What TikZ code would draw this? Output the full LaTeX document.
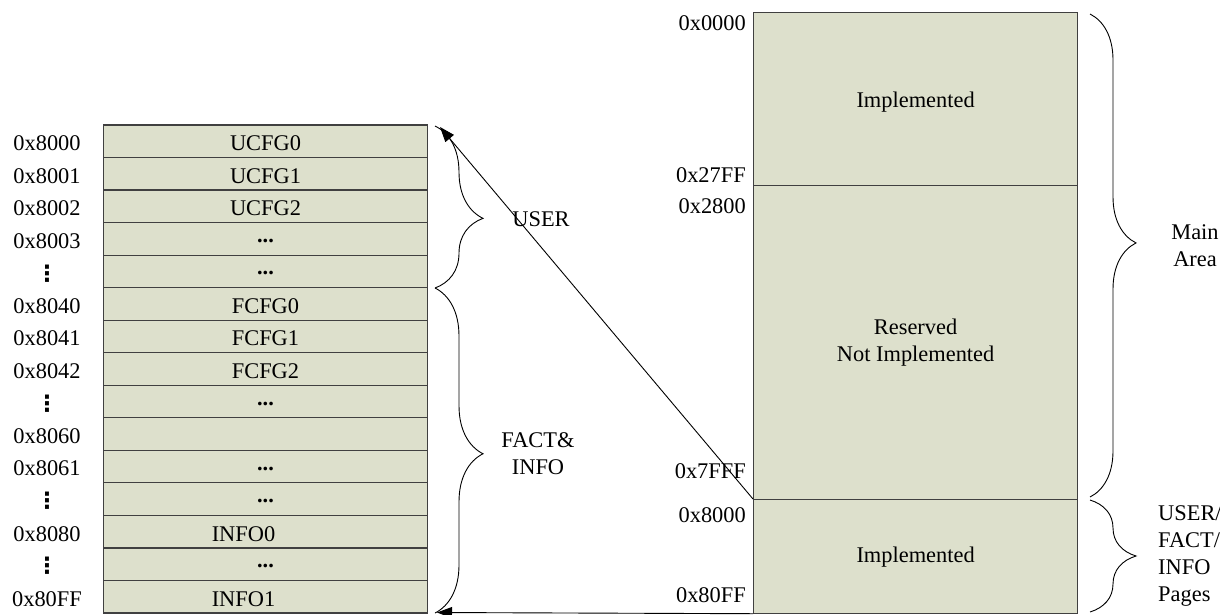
\documentclass[tikz,border=0pt]{standalone}
\usepackage{fontspec}
\setmainfont{Liberation Serif}
\newfontfamily\dotsfont{DejaVu Sans}
\usetikzlibrary{decorations.pathreplacing,arrows.meta}
\definecolor{cellfill}{RGB}{221,224,204}
\definecolor{edgegray}{RGB}{64,64,64}
\newcommand{\vdotsmark}{{\dotsfont\bfseries ⋮}}
\tikzset{
  cell/.style={draw=edgegray, fill=cellfill, line width=1.2pt, minimum width=324pt, minimum height=32.53pt, inner sep=0pt},
  block/.style={draw=edgegray, fill=cellfill, line width=1.2pt, minimum width=324pt, inner sep=0pt, anchor=north west},
  lbl/.style={inner sep=0pt, align=center},
  brc/.style={decorate, line width=0.9pt},
  conn/.style={line width=0.9pt, -{Triangle[length=15pt,width=11pt]}},
}
\begin{document}
\begin{tikzpicture}[x=1pt,y=-1pt,font=\fontsize{22.4}{27}\selectfont]
\useasboundingbox (0,0) rectangle (1220,614);
% left table
\foreach \t/\dx [count=\i] in {UCFG0/0,UCFG1/0,UCFG2/0,\textbf{...}/0,\textbf{...}/0,FCFG0/0,FCFG1/0,FCFG2/0,\textbf{...}/0,{}/0,\textbf{...}/0,\textbf{...}/0,INFO0/-22,\textbf{...}/0,INFO1/-22}{
  \node[cell] (c\i) at (265.5,{125+16.27+(\i-1)*32.533}) {};
  \node[lbl] (t\i) at ([xshift=\dx,yshift=-2] c\i.center) {\t};
}
\foreach \a [count=\i] in {0x8000,0x8001,0x8002,0x8003,\vdotsmark,0x8040,0x8041,0x8042,\vdotsmark,0x8060,0x8061,\vdotsmark,0x8080,\vdotsmark,0x80FF}{
  \node[lbl] (a\i) at (47,{125+16.27+(\i-1)*32.533+2}) {\a};
}
% left braces
\coordinate (lb1) at (435,126);
\coordinate (lb2) at (435,288);
\coordinate (lb3) at (435,613);
\draw[brc, decoration={brace,amplitude=48pt,aspect=0.57}] (lb1) -- (lb2);
\draw[brc, decoration={brace,amplitude=48pt,aspect=0.51}] (lb2) -- (lb3);
\node[lbl] (user) at (541,219) {USER};
\node[lbl] (fact) at (538,454) {FACT\&\\INFO};
% right column
\node[block, minimum height=173pt] (r1) at (753,12) {};
\node[block, minimum height=314pt] (r2) at (753,185) {};
\node[block, minimum height=113.5pt] (r3) at (753,499) {};
\node[lbl] (r1t) at ([yshift=-3] r1.center) {Implemented};
\node[lbl] (r2t) at (r2.center) {Reserved\\Not Implemented};
\node[lbl] (r3t) at ([yshift=-1] r3.center) {Implemented};
% right addresses
\node[lbl, anchor=east] (ra1) at (746,23) {0x0000};
\node[lbl, anchor=east] (ra2) at (746,175) {0x27FF};
\node[lbl, anchor=east] (ra3) at (746,206) {0x2800};
\node[lbl, anchor=east] (ra4) at (746,471) {0x7FFF};
\node[lbl, anchor=east] (ra5) at (746,515) {0x8000};
\node[lbl, anchor=east] (ra6) at (746,595) {0x80FF};
% right braces
\coordinate (rb1) at (1090,14);
\coordinate (rb2) at (1090,497);
\coordinate (rb3) at (1090,500);
\coordinate (rb4) at (1090,612);
\draw[brc, decoration={brace,amplitude=46pt,aspect=0.474}] (rb1) -- (rb2);
\draw[brc, decoration={brace,amplitude=46pt,aspect=0.5}] (rb3) -- (rb4);
\node[lbl] (main) at (1195,246) {Main\\Area};
\node[lbl, anchor=west, align=left] (pages) at (1158,556) {USER/\\FACT/\\INFO\\Pages};
% connectors
\coordinate (ua) at (440,127);
\coordinate (ba) at (437,612.5);
\draw[conn] (r3.north west) -- (ua);
\draw[conn] (r3.south west) -- (ba);
\end{tikzpicture}
\end{document}
